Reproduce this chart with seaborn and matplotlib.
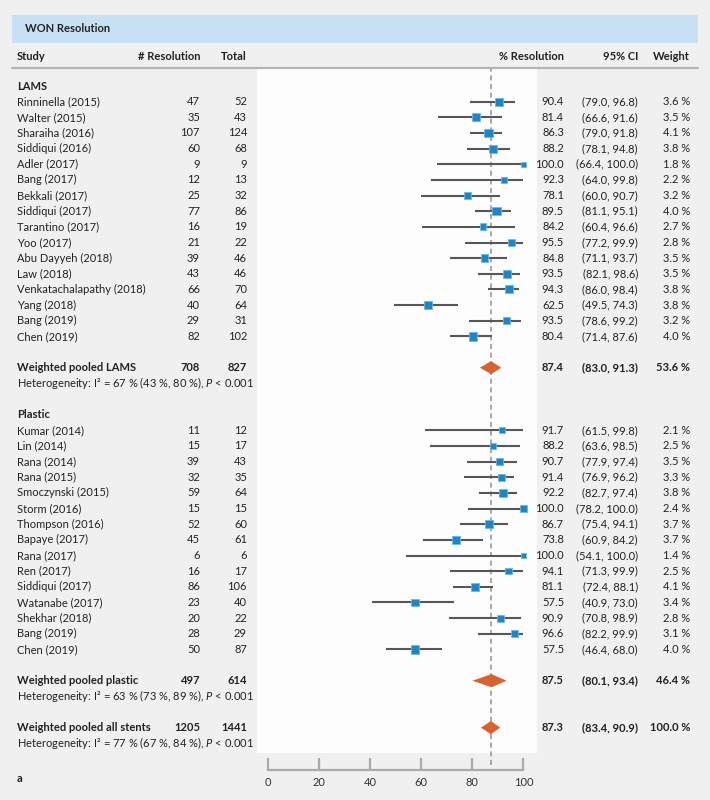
import numpy as np
import pandas as pd
import matplotlib.pyplot as plt
import matplotlib.transforms as mtransforms
from matplotlib.patches import Rectangle
from matplotlib.lines import Line2D
import seaborn as sns

# Datos: estudios LAMS
lams_names = ['Rinninella (2015)', 'Walter (2015)', 'Sharaiha (2016)', 'Siddiqui (2016)', 'Adler (2017)',
              'Bang (2017)', 'Bekkali (2017)', 'Siddiqui (2017)', 'Tarantino (2017)', 'Yoo (2017)',
              'Abu Dayyeh (2018)', 'Law (2018)', 'Venkatachalapathy (2018)', 'Yang (2018)', 'Bang (2019)',
              'Chen (2019)']
lams_n = [47, 35, 107, 60, 9, 12, 25, 77, 16, 21, 39, 43, 66, 40, 29, 82]
lams_total = [52, 43, 124, 68, 9, 13, 32, 86, 19, 22, 46, 46, 70, 64, 31, 102]
lams_est = [90.4, 81.4, 86.3, 88.2, 100.0, 92.3, 78.1, 89.5, 84.2, 95.5, 84.8, 93.5, 94.3, 62.5, 93.5, 80.4]
lams_lo = [79.0, 66.6, 79.0, 78.1, 66.4, 64.0, 60.0, 81.1, 60.4, 77.2, 71.1, 82.1, 86.0, 49.5, 78.6, 71.4]
lams_hi = [96.8, 91.6, 91.8, 94.8, 100.0, 99.8, 90.7, 95.1, 96.6, 99.9, 93.7, 98.6, 98.4, 74.3, 99.2, 87.6]
lams_weight = [3.6, 3.5, 4.1, 3.8, 1.8, 2.2, 3.2, 4.0, 2.7, 2.8, 3.5, 3.5, 3.8, 3.8, 3.2, 4.0]

# Datos: estudios plastico
plastic_names = ['Kumar (2014)', 'Lin (2014)', 'Rana (2014)', 'Rana (2015)', 'Smoczynski (2015)', 'Storm (2016)',
                 'Thompson (2016)', 'Bapaye (2017)', 'Rana (2017)', 'Ren (2017)', 'Siddiqui (2017)',
                 'Watanabe (2017)', 'Shekhar (2018)', 'Bang (2019)', 'Chen (2019)']
plastic_n = [11, 15, 39, 32, 59, 15, 52, 45, 6, 16, 86, 23, 20, 28, 50]
plastic_total = [12, 17, 43, 35, 64, 15, 60, 61, 6, 17, 106, 40, 22, 29, 87]
plastic_est = [91.7, 88.2, 90.7, 91.4, 92.2, 100.0, 86.7, 73.8, 100.0, 94.1, 81.1, 57.5, 90.9, 96.6, 57.5]
plastic_lo = [61.5, 63.6, 77.9, 76.9, 82.7, 78.2, 75.4, 60.9, 54.1, 71.3, 72.4, 40.9, 70.8, 82.2, 46.4]
plastic_hi = [99.8, 98.5, 97.4, 96.2, 97.4, 100.0, 94.1, 84.2, 100.0, 99.9, 88.1, 73.0, 98.9, 99.9, 68.0]
plastic_weight = [2.1, 2.5, 3.5, 3.3, 3.8, 2.4, 3.7, 3.7, 1.4, 2.5, 4.1, 3.4, 2.8, 3.1, 4.0]

# Estimaciones combinadas
pooled_names = ['Weighted pooled LAMS', 'Weighted pooled plastic', 'Weighted pooled all stents']
pooled_n = [708, 497, 1205]
pooled_total = [827, 614, 1441]
pooled_est = [87.4, 87.5, 87.3]
pooled_lo = [83.0, 80.1, 83.4]
pooled_hi = [91.3, 93.4, 90.9]
pooled_weight = [53.6, 46.4, 100.0]
het_i2 = [67, 63, 77]
het_ci = [(43, 80), (73, 89), (67, 84)]

# Filas del layout
lams_rows = list(range(1, 17))
plastic_rows = list(range(22, 37))
pooled_rows = [18, 38, 41]

studies = pd.DataFrame({
    'study': lams_names + plastic_names,
    'n': lams_n + plastic_n,
    'total': lams_total + plastic_total,
    'est': lams_est + plastic_est,
    'lo': lams_lo + plastic_lo,
    'hi': lams_hi + plastic_hi,
    'weight': lams_weight + plastic_weight,
    'row': lams_rows + plastic_rows,
})

sns.set_theme(style="white")
plt.rcParams['font.family'] = ['Lato', 'DejaVu Sans']
plt.rcParams['mathtext.fontset'] = 'custom'
plt.rcParams['mathtext.rm'] = 'Lato'
plt.rcParams['mathtext.it'] = 'Lato:italic'
plt.rcParams['mathtext.bf'] = 'Lato:bold'

W, H = 710, 800
FS = 8
fig = plt.figure(figsize=(W / 100, H / 100), dpi=100, facecolor='#f0f0f0')

# Panel del forest plot (pixeles: x 257-537, y 68-753)
ax = fig.add_axes([257 / W, 1 - 753 / H, 280 / W, 685 / H])
ax.set_facecolor('#fdfdfd')

row0, row_h = 86, 15.65
def px_to_row(py):
    return (py - row0) / row_h

# Lineas de IC y cuadrados
ax.hlines(studies['row'], studies['lo'], studies['hi'], color='#575757', lw=1.5, zorder=2)
sns.scatterplot(data=studies, x='est', y='row', size='weight', sizes=(12, 36), size_norm=(1.4, 4.1),
                marker='s', color='#1b87c9', edgecolor='#6cb8e8', linewidth=0.6, legend=False,
                ax=ax, zorder=3)

# Diamantes combinados
dh = 0.42
for r, e, lo, hi in zip(pooled_rows, pooled_est, pooled_lo, pooled_hi):
    ax.fill([lo, e, hi, e], [r, r - dh, r, r + dh], color='#d9622f', lw=0, zorder=3)

ax.axvline(pooled_est[2], ymin=-12 / 685, ymax=1, color='#9a9a9a', lw=1.2, ls=(0, (3, 2.2)),
           clip_on=False, zorder=1)

ax.set_xlim((257 - 267.7) / 2.557, (537 - 267.7) / 2.557)
ax.set_ylim(px_to_row(753), px_to_row(68))
ax.set_xlabel('')
ax.set_ylabel('')
ax.set_yticks([])
for s in ['top', 'right', 'left']:
    ax.spines[s].set_visible(False)
ax.spines['bottom'].set_position(('outward', 12))
ax.spines['bottom'].set_bounds(0, 100)
ax.spines['bottom'].set_color('#aaaaaa')
ax.spines['bottom'].set_linewidth(1.6)
ax.set_xticks([0, 20, 40, 60, 80, 100])
ax.tick_params(axis='x', bottom=True, direction='in', length=8.5, width=1.6, color='#aaaaaa',
               labelsize=FS, labelcolor='#333333', pad=5)

# Textos de las columnas
tr = mtransforms.blended_transform_factory(fig.transFigure, ax.transData)
def put(px, row, s, ha='left', bold=False):
    fig.text(px / W, row, s, transform=tr, ha=ha, va='center', fontsize=FS, color='#222222',
             fontweight='bold' if bold else 'normal')

x_study, x_n, x_tot, x_est, x_ci, x_w = 17, 200, 247, 564, 638, 690

put(x_study, 0, 'LAMS', bold=True)
put(x_study, 21, 'Plastic', bold=True)
for _, d in studies.iterrows():
    put(x_study, d['row'], d['study'])
    put(x_n, d['row'], f"{d['n']}", ha='right')
    put(x_tot, d['row'], f"{d['total']}", ha='right')
    put(x_est, d['row'], f"{d['est']:.1f}", ha='right')
    put(x_ci, d['row'], f"({d['lo']:.1f}, {d['hi']:.1f})", ha='right')
    put(x_w, d['row'], f"{d['weight']:.1f} %", ha='right')

for i, r in enumerate(pooled_rows):
    put(x_study, r, pooled_names[i], bold=True)
    put(x_n, r, f"{pooled_n[i]}", ha='right', bold=True)
    put(x_tot, r, f"{pooled_total[i]}", ha='right', bold=True)
    put(x_est, r, f"{pooled_est[i]:.1f}", ha='right', bold=True)
    put(x_ci, r, f"({pooled_lo[i]:.1f}, {pooled_hi[i]:.1f})", ha='right', bold=True)
    put(x_w, r, f"{pooled_weight[i]:.1f} %", ha='right', bold=True)
    lo_i, hi_i = het_ci[i]
    put(x_study, r + 1, f"Heterogeneity: I² = {het_i2[i]} % ({lo_i} %, {hi_i} %), $P$ < 0.001")

# Cabecera
hdr = px_to_row(56)
put(x_study, hdr, 'Study', bold=True)
put(x_n, hdr, '# Resolution', ha='right', bold=True)
put(x_tot, hdr, 'Total', ha='right', bold=True)
put(x_est, hdr, '% Resolution', ha='right', bold=True)
put(x_ci, hdr, '95% CI', ha='right', bold=True)
put(x_w, hdr, 'Weight', ha='right', bold=True)
fig.add_artist(Line2D([12 / W, 698 / W], [1 - 68 / H, 1 - 68 / H], color='#b5b5b5', lw=1.6))

# Banda del titulo
fig.add_artist(Rectangle((12 / W, 1 - 43 / H), 686 / W, 28 / H, facecolor='#c8e0f3', edgecolor='none'))
fig.text(25 / W, 1 - 29 / H, 'WON Resolution', ha='left', va='center', fontsize=FS,
         fontweight='bold', color='#222222')

fig.text(17 / W, 1 - 779 / H, 'a', ha='left', va='center', fontsize=FS, fontweight='bold', color='#222222')

plt.savefig('out.png', dpi=100, facecolor=fig.get_facecolor())
